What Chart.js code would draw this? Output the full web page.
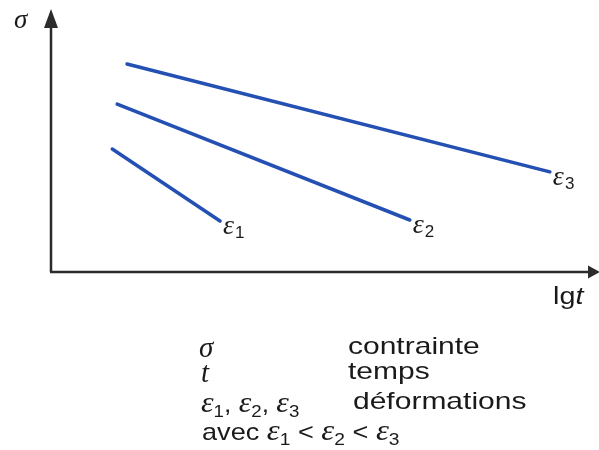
<!DOCTYPE html>
<html>
<head>
<meta charset="utf-8">
<script src="https://cdn.jsdelivr.net/npm/chart.js@4.4.1/dist/chart.umd.min.js"></script>
<style>
  body { margin: 0; background: #fff; }
  #wrap { position: relative; width: 599px; height: 450px; overflow: hidden; }
  #creepChart { position: absolute; left: 0; top: 0; }
  .txt { position: absolute; font-family: "Liberation Sans", Arial, sans-serif; color: #1a1a1a;
         white-space: nowrap; line-height: 24px; font-size: 24px; transform-origin: 0 0; transform: scaleX(1.25); }
  .it { font-family: "Liberation Serif", "DejaVu Serif", serif; font-style: italic; font-size: 29px; }
  .sub { font-size: 17px; position: relative; top: 5px; }
</style>
</head>
<body>
<div id="wrap">
  <canvas id="creepChart" width="599" height="450"></canvas>

  <!-- axis titles -->
  <div class="txt it" style="left:14px; top:7px; font-size:27px; transform:none;">σ</div>
  <div class="txt" style="left:553px; top:284px; font-size:23px; transform:scaleX(1.25);">lg<span style="font-style:italic">t</span></div>

  <!-- legend block -->
  <div class="txt it" style="left:199px; top:335px; transform:none;">σ</div>
  <div class="txt" style="left:348px; top:334px;">contrainte</div>
  <div class="txt it" style="left:201px; top:360px; transform:none;">t</div>
  <div class="txt" style="left:348px; top:359px;">temps</div>
  <div class="txt" style="left:201px; top:390px; transform:scaleX(1.1);"><span class="it">ε</span><span class="sub">1</span>, <span class="it">ε</span><span class="sub">2</span>, <span class="it">ε</span><span class="sub">3</span></div>
  <div class="txt" style="left:353px; top:389px;">déformations</div>
  <div class="txt" style="left:202px; top:418px; transform:scaleX(1.13);">avec <span class="it">ε</span><span class="sub">1</span> &lt; <span class="it">ε</span><span class="sub">2</span> &lt; <span class="it">ε</span><span class="sub">3</span></div>
</div>

<script>
// stress (σ) vs log time, one line per strain level
const strainNames = ['1', '2', '3'];
const eps1Lgt = [1.12, 3.09];
const eps1Sigma = [4.73, 1.96];
const eps2Lgt = [1.21, 6.56];
const eps2Sigma = [6.46, 2.0];
const eps3Lgt = [1.39, 9.12];
const eps3Sigma = [8.0, 3.85];

const lineColor = '#2450b4';
const axisColor = '#2b2b2b';

function toPoints(xs, ys) {
    return xs.map((x, i) => ({ x: x, y: ys[i] }));
}

// axes with arrowheads, drawn on the chart area edges
const arrowAxes = {
    id: 'arrowAxes',
    beforeDatasetsDraw(chart) {
        const { ctx, chartArea } = chart;
        const left = chartArea.left, bottom = chartArea.bottom;
        ctx.save();
        ctx.strokeStyle = axisColor;
        ctx.fillStyle = axisColor;
        ctx.lineWidth = 2.5;
        ctx.beginPath();
        ctx.moveTo(left, bottom);
        ctx.lineTo(left, 24);
        ctx.moveTo(left - 1, bottom);
        ctx.lineTo(590, bottom);
        ctx.stroke();
        // vertical arrow
        ctx.beginPath();
        ctx.moveTo(left, 9);
        ctx.lineTo(left - 7, 28);
        ctx.lineTo(left + 7, 28);
        ctx.closePath();
        ctx.fill();
        // horizontal arrow
        ctx.beginPath();
        ctx.moveTo(600, bottom);
        ctx.lineTo(588, bottom - 6.5);
        ctx.lineTo(588, bottom + 6.5);
        ctx.closePath();
        ctx.fill();
        ctx.restore();
    }
};

// ε labels next to the last point of each line
const endLabels = {
    id: 'endLabels',
    afterDatasetsDraw(chart) {
        const ctx = chart.ctx;
        ctx.save();
        ctx.fillStyle = '#1a1a1a';
        ctx.textBaseline = 'middle';
        chart.data.datasets.forEach((ds, i) => {
            const meta = chart.getDatasetMeta(i);
            const last = meta.data[meta.data.length - 1];
            const x = last.x + 3, y = last.y + 6;
            ctx.font = 'italic 28px "Liberation Serif", serif';
            ctx.fillText('ε', x, y);
            const w = ctx.measureText('ε').width;
            ctx.font = '17px "Liberation Sans", sans-serif';
            ctx.fillText(strainNames[i], x + w + 1, y + 6);
        });
        ctx.restore();
    }
};

const ctx = document.getElementById('creepChart').getContext('2d');
new Chart(ctx, {
    type: 'scatter',
    data: {
        datasets: [
            { data: toPoints(eps1Lgt, eps1Sigma) },
            { data: toPoints(eps2Lgt, eps2Sigma) },
            { data: toPoints(eps3Lgt, eps3Sigma) }
        ].map(ds => Object.assign(ds, {
            showLine: true,
            borderColor: lineColor,
            borderWidth: 3.5,
            pointRadius: 0,
            borderCapStyle: 'round'
        }))
    },
    options: {
        responsive: false,
        animation: false,
        devicePixelRatio: 1,
        layout: { padding: { left: 51, top: 12, right: 1, bottom: 178 } },
        plugins: { legend: { display: false }, tooltip: { enabled: false } },
        scales: {
            x: { type: 'linear', min: 0, max: 10, display: false },
            y: { type: 'linear', min: 0, max: 10, display: false }
        }
    },
    plugins: [arrowAxes, endLabels]
});
</script>
</body>
</html>
